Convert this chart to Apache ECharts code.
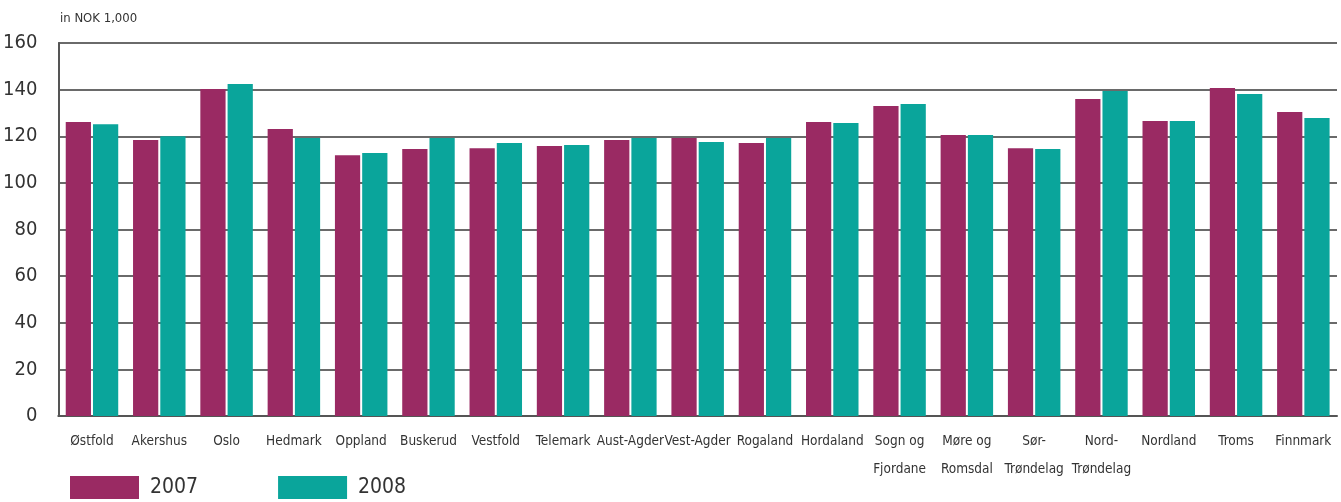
<!DOCTYPE html>
<html>
<head>
<meta charset="utf-8">
<script src="https://cdn.jsdelivr.net/npm/echarts@6/dist/echarts.min.js"></script>
<style>
  html, body { margin: 0; padding: 0; background: #fff; }
  #chart { width: 1341px; height: 502px; }
</style>
</head>
<body>
<div id="chart"></div>
<script>
// Counties
const categories = [
  'Østfold', 'Akershus', 'Oslo', 'Hedmark', 'Oppland', 'Buskerud', 'Vestfold',
  'Telemark', 'Aust-Agder', 'Vest-Agder', 'Rogaland', 'Hordaland', 'Sogn og\nFjordane',
  'Møre og\nRomsdal', 'Sør-\nTrøndelag', 'Nord-\nTrøndelag', 'Nordland', 'Troms', 'Finnmark'
];

// Values in NOK 1,000
const values2007 = [126.1, 118.4, 140.3, 123.1, 111.9, 114.5, 114.9, 115.8, 118.4, 119.2,
                    117.1, 126.1, 133.0, 120.5, 114.9, 136.0, 126.5, 140.7, 130.4];
const values2008 = [125.2, 120.0, 142.4, 119.2, 112.8, 119.2, 117.1, 116.2, 119.2, 117.5,
                    119.2, 125.7, 133.8, 120.5, 114.5, 139.4, 126.5, 138.1, 127.8];

const seriesNames = ['2007', '2008'];
const yTicks = { min: 0, max: 160, interval: 20 };

const FONT = '"DejaVu Sans Condensed", "Liberation Sans Narrow", sans-serif';
const chart = echarts.init(document.getElementById('chart'), null, { renderer: 'canvas' });

chart.setOption({
  animation: false,
  textStyle: { fontFamily: FONT },
  title: {
    text: 'in NOK 1,000',
    left: 60, top: 12, padding: 0,
    textStyle: { fontFamily: FONT, fontSize: 13, fontWeight: 'normal', color: '#333' }
  },
  legend: {
    data: seriesNames,
    left: 70, top: 476, padding: 0,
    itemWidth: 69, itemHeight: 23, itemGap: 80,
    icon: 'rect',
    textStyle: { fontFamily: FONT, fontSize: 21, color: '#333', padding: [0, 0, 0, 6] }
  },
  grid: { left: 57.5, right: 4, top: 43, bottom: 86, containLabel: false },
  xAxis: {
    type: 'category',
    data: categories,
    axisLine: { show: true, lineStyle: { color: '#555', width: 2 } },
    axisTick: { show: false },
    axisLabel: {
      interval: 0, margin: 11,
      fontFamily: FONT, fontSize: 13.5, color: '#333', lineHeight: 28, verticalAlign: 'top'
    }
  },
  yAxis: {
    type: 'value',
    min: yTicks.min, max: yTicks.max, interval: yTicks.interval,
    axisLine: { show: true, lineStyle: { color: '#555', width: 2 } },
    axisTick: { show: false },
    axisLabel: { margin: 21, fontFamily: FONT, fontSize: 20, color: '#333' },
    splitLine: { lineStyle: { color: '#6a6a6a', width: 2 } }
  },
  series: [
    {
      name: seriesNames[0], type: 'bar', data: values2007,
      itemStyle: { color: '#9a2a63' },
      barGap: '8%', barCategoryGap: '22%'
    },
    {
      name: seriesNames[1], type: 'bar', data: values2008,
      itemStyle: { color: '#0aa59b' },
      barGap: '8%', barCategoryGap: '22%'
    }
  ]
});
</script>
</body>
</html>
